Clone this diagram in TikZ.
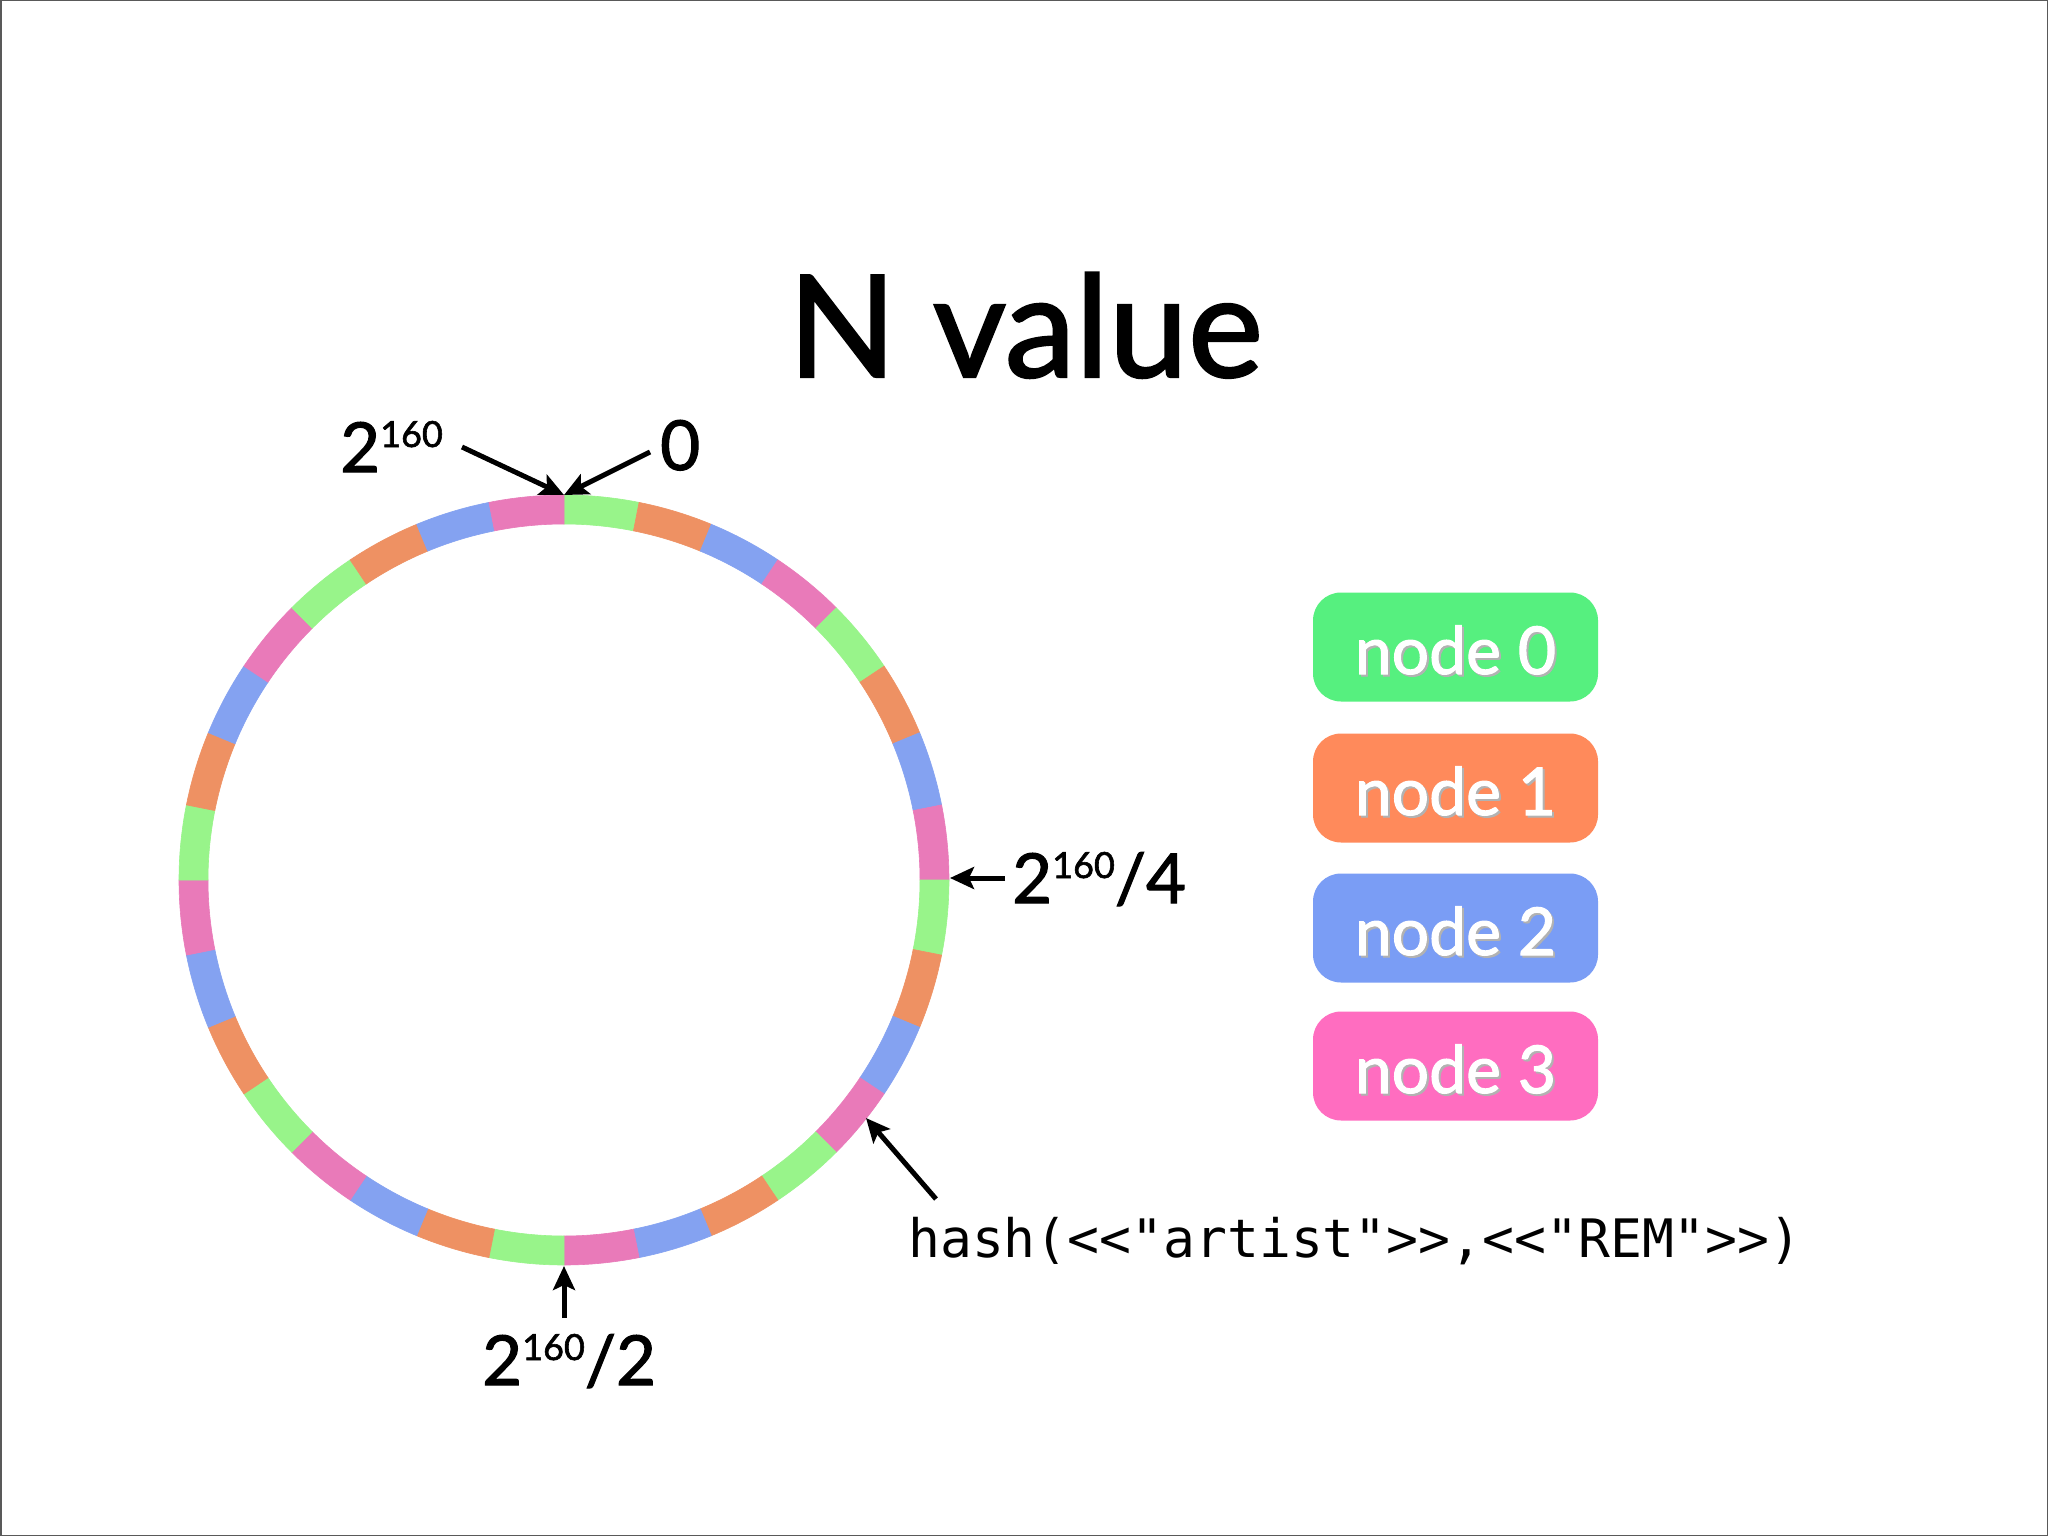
\documentclass[tikz,border=0pt]{standalone}
\usepackage{fontspec}
\setmainfont{Lato}[FakeBold=1.6]
\newfontfamily\hashfont[Ligatures=TeXOff]{DejaVu Sans Mono}
\usetikzlibrary{arrows.meta}
\definecolor{rgreen}{HTML}{98F48A}
\definecolor{rorange}{HTML}{EE9163}
\definecolor{rblue}{HTML}{84A2F1}
\definecolor{rpink}{HTML}{E97AB9}
\definecolor{bgreen}{HTML}{56F07F}
\definecolor{borange}{HTML}{FF8A5B}
\definecolor{bblue}{HTML}{7A9DF5}
\definecolor{bpink}{HTML}{FF6DC0}
\newcommand\supnum[1]{\raisebox{25pt}{\fontsize{36}{36}\selectfont #1}}
\newcommand\shtext[1]{\makebox[0pt][l]{\hspace{2pt}\raisebox{-2pt}{\textcolor{black!30}{#1}}}#1}
\begin{document}
\begin{tikzpicture}[x=1pt,y=1pt,
  lab/.style={inner sep=0pt, font=\fontsize{69}{72}\selectfont, anchor=base west},
  arr/.style={line width=5pt, -{Stealth[length=24pt,width=22pt,inset=5pt]}},
  nbox/.style={rounded corners=28pt, minimum width=285pt, minimum height=109pt,
    inner sep=0pt, text=white, text height=54pt, text depth=0pt,
    font=\fontsize{66}{70}\selectfont}]
\useasboundingbox (0,0) rectangle (2048,-1536);
\fill[white] (0,0) rectangle (2048,-1536);
\draw[black!65, line width=3pt] (0,0) rectangle (2048,-1536);

% title
\node[inner sep=0pt, anchor=base, font=\fontsize{142}{150}\selectfont] (title) at (1025.5,-377) {N value};

% ring
\coordinate (c) at (564,-880);
\foreach \k in {0,...,31} {
  \pgfmathsetmacro\aa{90-11.25*\k}
  \pgfmathsetmacro\bb{90-11.25*(\k+1)}
  \pgfmathtruncatemacro\cc{mod(\k,4)}
  \ifcase\cc \def\col{rgreen}\or \def\col{rorange}\or \def\col{rblue}\or \def\col{rpink}\fi
  \filldraw[fill=\col, draw=\col, line width=0.6pt] (c) ++(\aa:356) arc[start angle=\aa, end angle=\bb, radius=356]
    -- ++(\bb:29) arc[start angle=\bb, end angle=\aa, radius=385] -- cycle;
}

% ring points
\coordinate (ptop) at (564,-495);
\coordinate (pright) at (950,-878);
\coordinate (pbot) at (564,-1266);
\coordinate (phash) at (866,-1118);

% labels
\node[lab] (l160) at (340,-472) {2\supnum{160}};
\node[lab] (lzero) at (660,-470) {0};
\node[lab] (lquarter) at (1012,-903) {2\supnum{160}/4};
\node[lab] (lhalf) at (482,-1385) {2\supnum{160}/2};
\node[inner sep=0pt, anchor=base west, font=\hashfont\fontsize{53}{58}\selectfont] (lhash) at (908,-1257) {hash(<<"artist">>,<<"REM">>)};

% arrow tails
\coordinate (t1) at (462,-447);
\coordinate (t2) at (650,-452);
\coordinate (t3) at (1005,-878);
\coordinate (t4) at (564,-1318);
\coordinate (t5) at (936,-1199);

\draw[arr] (t1) -- (ptop);
\draw[arr] (t2) -- (ptop);
\draw[arr] (t3) -- (pright);
\draw[arr] (t4) -- (pbot);
\draw[arr] (t5) -- (phash);

% legend
\node[nbox, fill=bgreen] (n0) at (1455.5,-647) {\shtext{node 0}};
\node[nbox, fill=borange] (n1) at (1455.5,-788) {\shtext{node 1}};
\node[nbox, fill=bblue] (n2) at (1455.5,-928) {\shtext{node 2}};
\node[nbox, fill=bpink] (n3) at (1455.5,-1066) {\shtext{node 3}};
\end{tikzpicture}
\end{document}
